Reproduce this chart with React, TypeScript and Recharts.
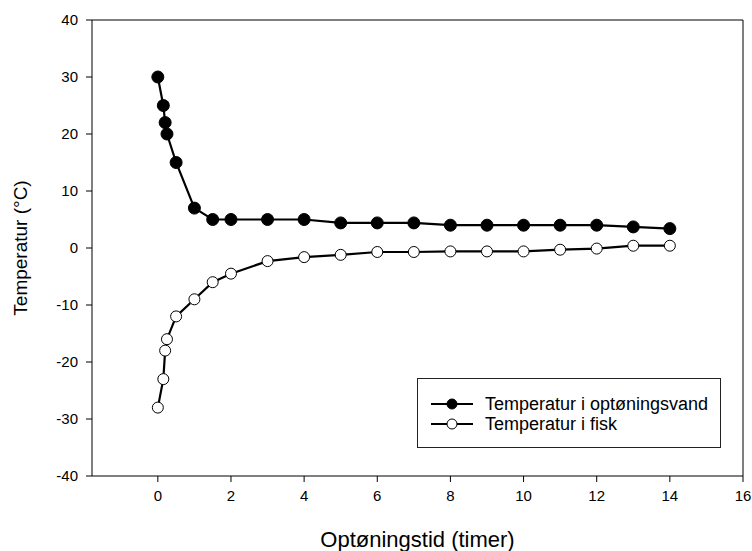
import { LineChart, Line, XAxis, YAxis, ReferenceLine, Legend } from 'recharts';

const timer = [0, 0.15, 0.2, 0.25, 0.5, 1, 1.5, 2, 3, 4, 5, 6, 7, 8, 9, 10, 11, 12, 13, 14];
const vand = [30, 25, 22, 20, 15, 7, 5, 5, 5, 5, 4.4, 4.4, 4.4, 4, 4, 4, 4, 4, 3.7, 3.4];
const fisk = [-28, -23, -18, -16, -12, -9, -6, -4.5, -2.3, -1.6, -1.2, -0.7, -0.7, -0.6, -0.6, -0.6, -0.3, -0.1, 0.4, 0.4];
const xTicks = [0, 2, 4, 6, 8, 10, 12, 14, 16];
const yTicks = [-40, -30, -20, -10, 0, 10, 20, 30, 40];

const SERIES = [
  { key: 'vand', name: 'Temperatur i optøningsvand', fill: '#000' },
  { key: 'fisk', name: 'Temperatur i fisk', fill: '#fff' },
];

const data = timer.map((t, i) => ({ t, vand: vand[i], fisk: fisk[i] }));

const FONT = '"Liberation Sans", Arial, sans-serif';
const tickStyle = { fill: '#000', fontSize: 15, fontFamily: FONT };

function LegendBox() {
  return (
    <div
      style={{
        position: 'relative',
        width: 302,
        height: 68,
        border: '1px solid #222',
        background: '#fff',
        fontFamily: FONT,
        fontSize: 18,
        color: '#000',
      }}
    >
      {SERIES.map((s, i) => (
        <div key={s.key} style={{ position: 'absolute', left: 12, top: 15 + i * 20, height: 20, display: 'flex', alignItems: 'center' }}>
          <svg width={44} height={20}>
            <line x1={1} y1={10} x2={43} y2={10} stroke="#000" strokeWidth={2} />
            <circle cx={22} cy={10} r={5} fill={s.fill} stroke="#000" strokeWidth={1} />
          </svg>
          <span style={{ marginLeft: 11, whiteSpace: 'nowrap' }}>{s.name}</span>
        </div>
      ))}
    </div>
  );
}

export default function App() {
  return (
    <div style={{ position: 'absolute', left: 0, top: 0, background: '#fff' }}>
      <LineChart width={752} height={551} data={data} margin={{ top: 20, right: 9, bottom: 0, left: 0 }}>
        <XAxis
          dataKey="t"
          type="number"
          domain={[-1.8, 16]}
          ticks={xTicks}
          allowDataOverflow
          height={75}
          tickSize={6}
          tickMargin={8}
          tick={tickStyle}
          stroke="#000"
          label={{ value: 'Optøningstid (timer)', position: 'insideBottom', offset: 4, fill: '#000', fontSize: 22, fontFamily: FONT }}
        />
        <YAxis
          type="number"
          domain={[-40, 40]}
          ticks={yTicks}
          width={92}
          tickSize={6}
          tickMargin={8}
          tick={tickStyle}
          stroke="#000"
          label={{ value: 'Temperatur (°C)', angle: -90, position: 'center', dx: -26, fill: '#000', fontSize: 19, fontFamily: FONT }}
        />
        <ReferenceLine y={40} stroke="#000" strokeWidth={1} />
        <ReferenceLine x={16} stroke="#000" strokeWidth={1} />
        <Legend
          layout="vertical"
          align="center"
          verticalAlign="middle"
          wrapperStyle={{ left: 417, top: 378, width: 304, height: 70 }}
          content={() => <LegendBox />}
        />
        <Line
          dataKey="vand"
          name={SERIES[0].name}
          type="linear"
          stroke="#000"
          strokeWidth={2.2}
          dot={{ r: 6, fill: '#000', stroke: '#000', strokeWidth: 1 }}
          isAnimationActive={false}
        />
        <Line
          dataKey="fisk"
          name={SERIES[1].name}
          type="linear"
          stroke="#000"
          strokeWidth={2.2}
          dot={{ r: 5.5, fill: '#fff', stroke: '#000', strokeWidth: 1 }}
          isAnimationActive={false}
        />
      </LineChart>
    </div>
  );
}
